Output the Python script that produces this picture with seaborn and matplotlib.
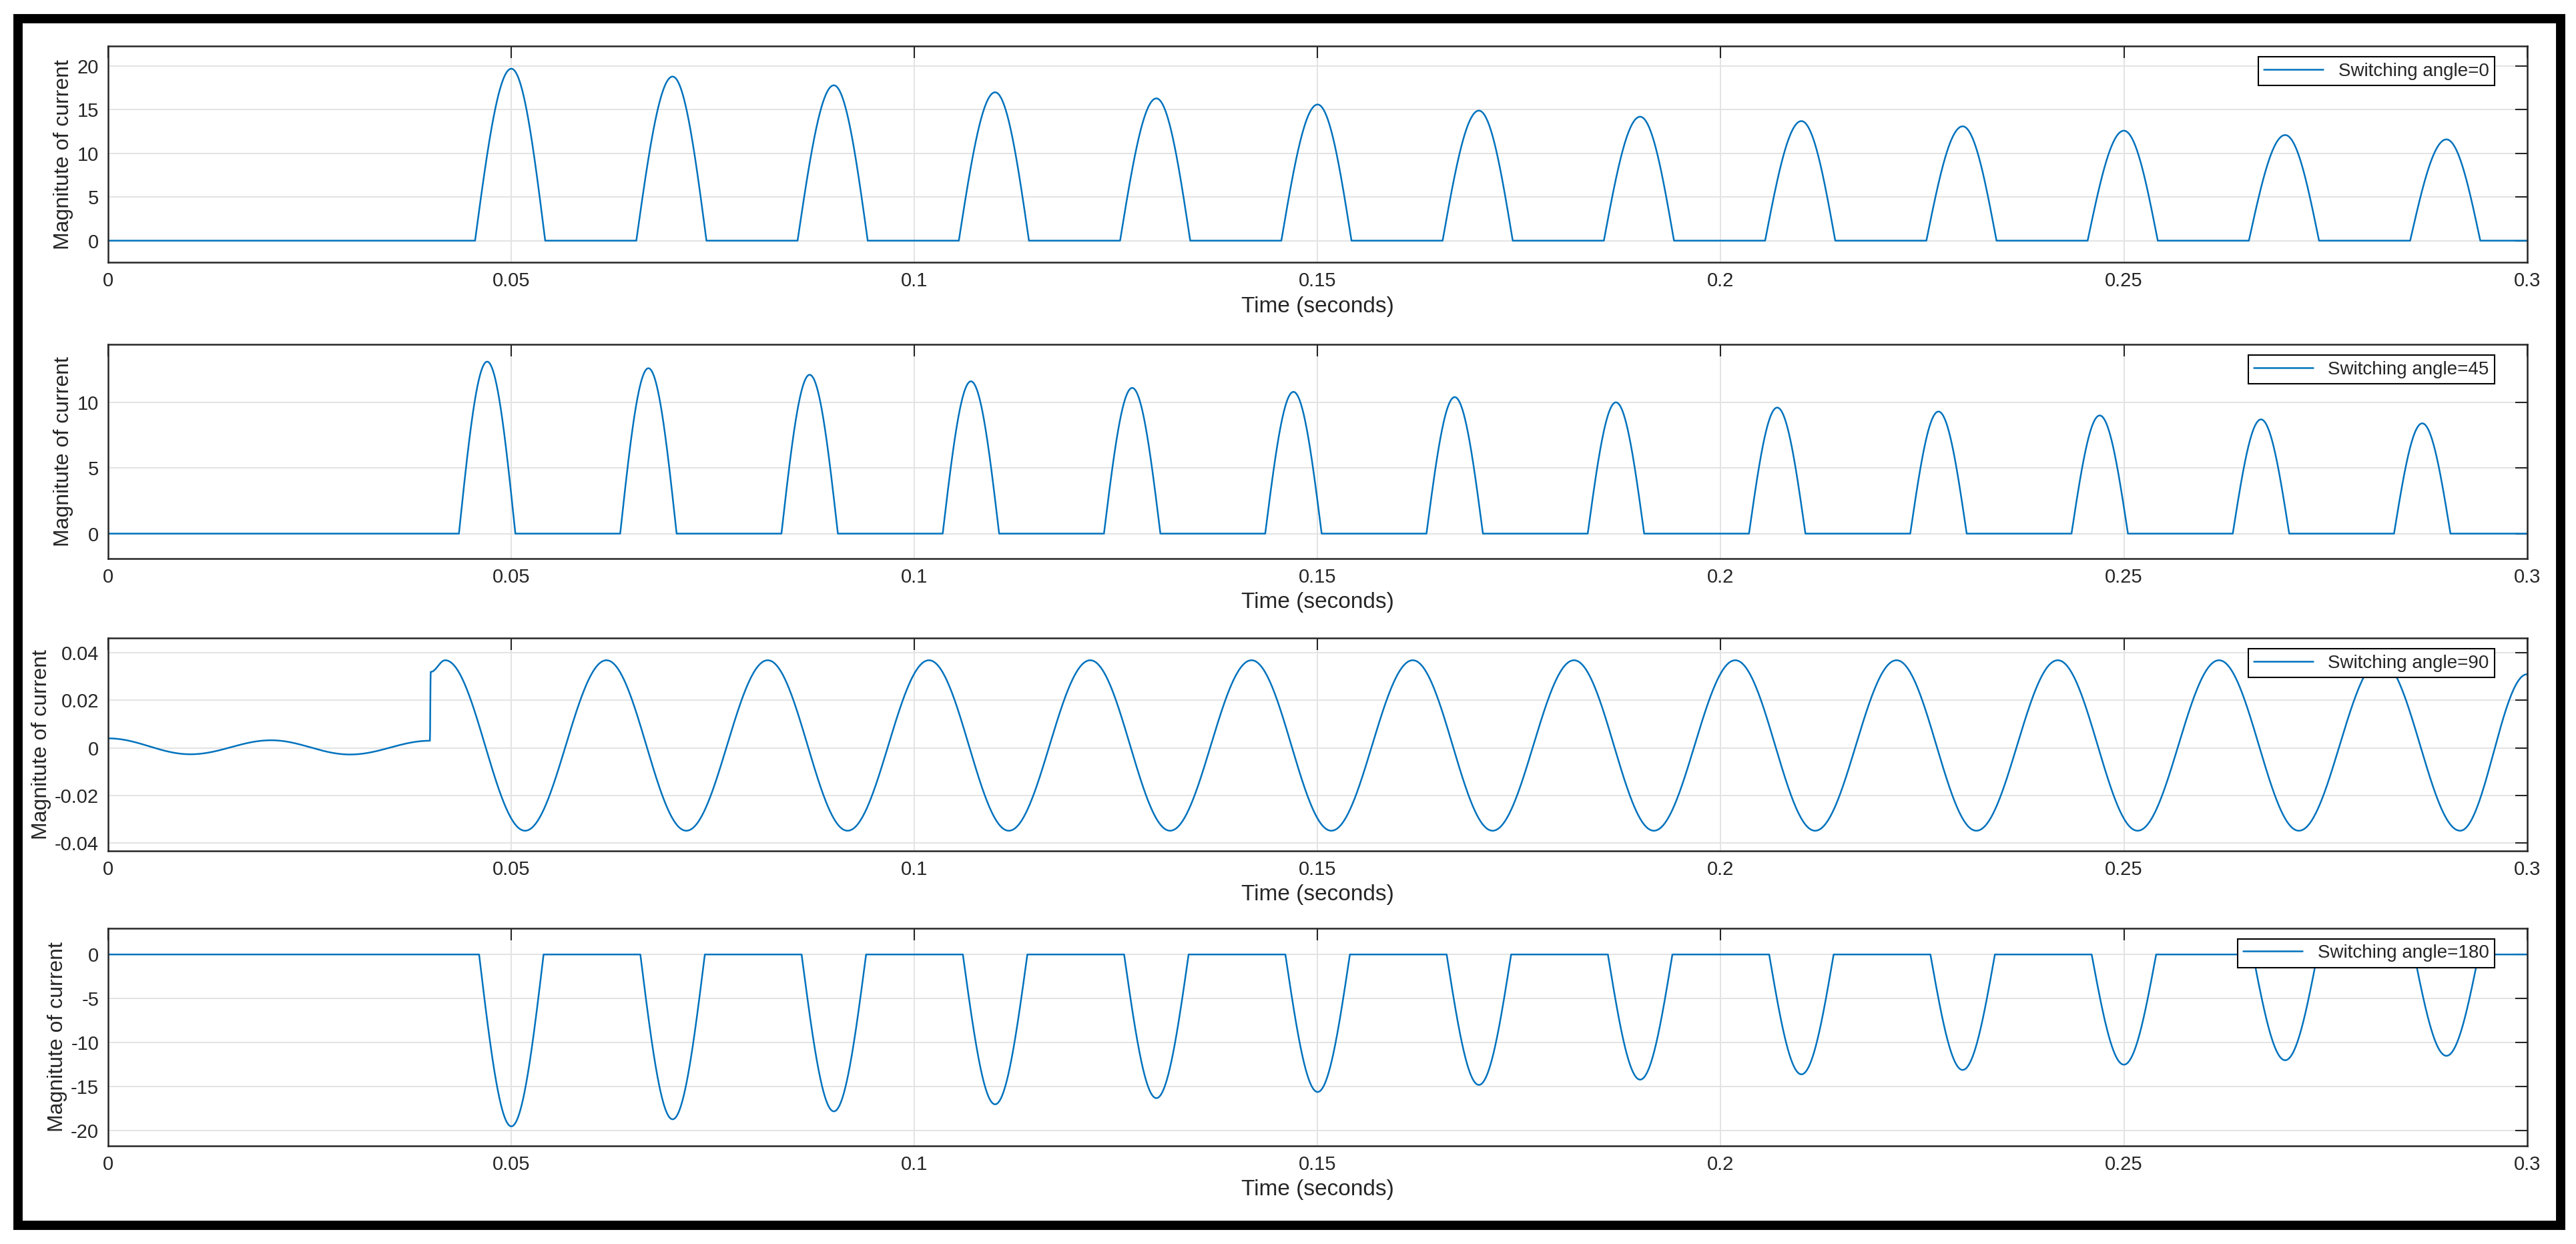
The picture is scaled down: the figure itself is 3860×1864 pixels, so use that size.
import numpy as np
import matplotlib
matplotlib.use('Agg')
import matplotlib.pyplot as plt
import seaborn as sns
from matplotlib.patches import Rectangle

sns.set_style('white')
plt.rcParams['font.family'] = ['Liberation Sans', 'DejaVu Sans']

# ---- data ----
angle_labels = ['Switching angle=0', 'Switching angle=45',
                'Switching angle=90', 'Switching angle=180']

# angle 0: positive pulses
peaks_0_t = [0.05, 0.07, 0.09, 0.11, 0.13, 0.15, 0.17, 0.19, 0.21, 0.23, 0.25, 0.27, 0.29]
peaks_0_v = [19.7, 18.8, 17.8, 17.0, 16.3, 15.6, 14.9, 14.2, 13.7, 13.1, 12.6, 12.1, 11.6]

# angle 45: narrower positive pulses
peaks_45_t = [0.047, 0.067, 0.087, 0.107, 0.127, 0.147, 0.167, 0.187, 0.207, 0.227, 0.247, 0.267, 0.287]
peaks_45_v = [13.1, 12.6, 12.1, 11.6, 11.1, 10.8, 10.4, 10.0, 9.6, 9.3, 9.0, 8.7, 8.4]

# angle 90: extremes of the oscillation (times, values)
ext_90_t = [0.0, 0.0102, 0.0202, 0.030, 0.0399,
            0.0400, 0.0418, 0.0517, 0.0618, 0.0717, 0.0818, 0.0917, 0.1018, 0.1117,
            0.1218, 0.1317, 0.1418, 0.1517, 0.1618, 0.1717, 0.1818, 0.1917, 0.2018,
            0.2117, 0.2218, 0.2317, 0.2418, 0.2517, 0.2618, 0.2717, 0.2818, 0.2917, 0.3]
ext_90_v = [0.004, -0.0027, 0.0032, -0.0028, 0.003,
            0.032, 0.0369, -0.0349, 0.0369, -0.0349, 0.0369, -0.0349, 0.0369, -0.0349,
            0.0369, -0.0349, 0.0369, -0.0349, 0.0369, -0.0349, 0.0369, -0.0349, 0.0369,
            -0.0349, 0.0369, -0.0349, 0.0369, -0.0349, 0.0369, -0.0349, 0.0369, -0.0349, 0.031]

# angle 180: negative pulses
peaks_180_t = [0.05, 0.07, 0.09, 0.11, 0.13, 0.15, 0.17, 0.19, 0.21, 0.23, 0.25, 0.27, 0.29]
peaks_180_v = [-19.5, -18.7, -17.8, -17.0, -16.3, -15.6, -14.8, -14.2, -13.6, -13.1, -12.5, -12.0, -11.5]

x_ticks = [0, 0.05, 0.1, 0.15, 0.2, 0.25, 0.3]
x_tick_labels = ['0', '0.05', '0.1', '0.15', '0.2', '0.25', '0.3']
y_ticks = [[0, 5, 10, 15, 20], [0, 5, 10], [-0.04, -0.02, 0, 0.02, 0.04], [-20, -15, -10, -5, 0]]
y_tick_labels = [['0', '5', '10', '15', '20'], ['0', '5', '10'],
                 ['-0.04', '-0.02', '0', '0.02', '0.04'], ['-20', '-15', '-10', '-5', '0']]
y_limits = [(-2.5, 22.3), (-1.9, 14.4), (-0.0434, 0.0462), (-21.7, 3.0)]

t = np.linspace(0, 0.3, 12001)


def pulse_train(peak_t, peak_v, before, after):
    y = np.zeros_like(t)
    for tp, v in zip(peak_t, peak_v):
        left = (t >= tp - before) & (t < tp)
        right = (t >= tp) & (t <= tp + after)
        y[left] = v * np.sin(0.5 * np.pi * (t[left] - (tp - before)) / before)
        y[right] = v * np.cos(0.5 * np.pi * (t[right] - tp) / after)
    return y


def smooth_through(ext_t, ext_v):
    y = np.zeros_like(t)
    for i in range(len(ext_t) - 1):
        a, b = ext_t[i], ext_t[i + 1]
        m = (t >= a) & (t <= b)
        s = (t[m] - a) / (b - a)
        y[m] = ext_v[i] + (ext_v[i + 1] - ext_v[i]) * (1 - np.cos(np.pi * s)) / 2
    return y


series = [
    pulse_train(peaks_0_t, peaks_0_v, 0.0045, 0.0042),
    pulse_train(peaks_45_t, peaks_45_v, 0.0035, 0.0035),
    smooth_through(ext_90_t, ext_90_v),
    pulse_train(peaks_180_t, peaks_180_v, 0.004, 0.004),
]

fig = plt.figure(figsize=(38.6, 18.64), dpi=100)
bottoms = [0.789, 0.551, 0.316, 0.079]
heights = [0.174, 0.172, 0.171, 0.175]

for i in range(4):
    ax = fig.add_axes([0.042, bottoms[i], 0.939, heights[i]])
    sns.lineplot(x=t, y=series[i], ax=ax, color='#0072BD', linewidth=1.8,
                 label=angle_labels[i], estimator=None)
    ax.set_xlim(0, 0.3)
    ax.set_ylim(*y_limits[i])
    ax.set_xticks(x_ticks)
    ax.set_xticklabels(x_tick_labels)
    ax.set_yticks(y_ticks[i])
    ax.set_yticklabels(y_tick_labels[i])
    ax.grid(True, color='#e3e3e3', linewidth=1.4)
    ax.tick_params(direction='in', length=13, width=1.5, color='#262626',
                   top=True, right=True, labelsize=21, pad=10)
    for sp in ax.spines.values():
        sp.set_color('#262626')
        sp.set_linewidth(1.8)
    ax.set_xlabel('Time (seconds)', fontsize=24, labelpad=6)
    ax.set_ylabel('Magnitute of current', fontsize=23, labelpad=4)
    leg = ax.legend(loc='upper right', bbox_to_anchor=(0.9865, 0.95), borderaxespad=0,
                    fontsize=20, frameon=True, fancybox=False, framealpha=1,
                    handlelength=3.2, borderpad=0.3)
    leg.get_frame().set_edgecolor('#000000')
    leg.get_frame().set_linewidth(1.5)

# black frame around the whole figure
fig.patches.append(Rectangle((0.007, 0.015), 0.987, 0.97, transform=fig.transFigure,
                             fill=False, edgecolor='black', linewidth=10))

fig.savefig('out.png', dpi=100)
